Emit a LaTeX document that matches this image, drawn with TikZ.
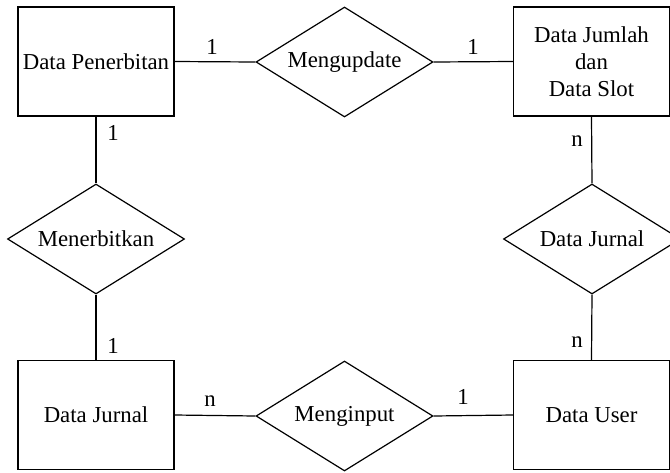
\documentclass[tikz,border=0pt]{standalone}
\usepackage{fontspec}
\setmainfont{Liberation Serif}
\usetikzlibrary{shapes.geometric}
\begin{document}
\begin{tikzpicture}[x=0.5pt,y=-0.5pt,
  every node/.style={font=\fontsize{11.4}{13.5}\selectfont},
  entity/.style={draw, line width=0.6pt, rectangle, inner sep=0pt,
    minimum width=78pt, minimum height=54.5pt, align=center},
  relation/.style={draw, line width=0.6pt, diamond, aspect=1.6, inner sep=0pt,
    minimum width=88.5pt, minimum height=55pt},
  link/.style={line width=0.6pt},
  card/.style={anchor=base, inner sep=0pt}]
\useasboundingbox (0,0) rectangle (670,472);
\clip (0,0) rectangle (670,472);
% entities
\node[entity] (pen) at (96,61.5) {Data Penerbitan};
\node[entity] (jum) at (591.5,61.5) {Data Jumlah\\dan\\Data Slot};
\node[entity] (jur) at (96,415) {Data Jurnal};
\node[entity] (usr) at (591.5,415) {Data User};
% relationships
\node[relation] (upd) at (344.5,62) {Mengupdate};
\node[relation] (ter) at (96,239) {Menerbitkan};
\node[relation] (djr) at (592,239) {Data Jurnal};
\node[relation] (inp) at (344.5,416) {Menginput};
% connectors
\draw[link] (pen.east) -- (upd.west);
\draw[link] (upd.east) -- (jum.west);
\draw[link] (pen.south) -- (ter.north);
\draw[link] (ter.south) -- (jur.north);
\draw[link] (jum.south) -- (djr.north);
\draw[link] (djr.south) -- (usr.north);
\draw[link] (jur.east) -- (inp.west);
\draw[link] (inp.east) -- (usr.west);
% cardinalities
\node[card] (c1) at (212,54) {1};
\node[card] (c2) at (473,54) {1};
\node[card] (c3) at (113,140) {1};
\node[card] (c4) at (113,353) {1};
\node[card] (c5) at (577,146) {n};
\node[card] (c6) at (577,347) {n};
\node[card] (c7) at (210,406) {n};
\node[card] (c8) at (463,404) {1};
\end{tikzpicture}
\end{document}
